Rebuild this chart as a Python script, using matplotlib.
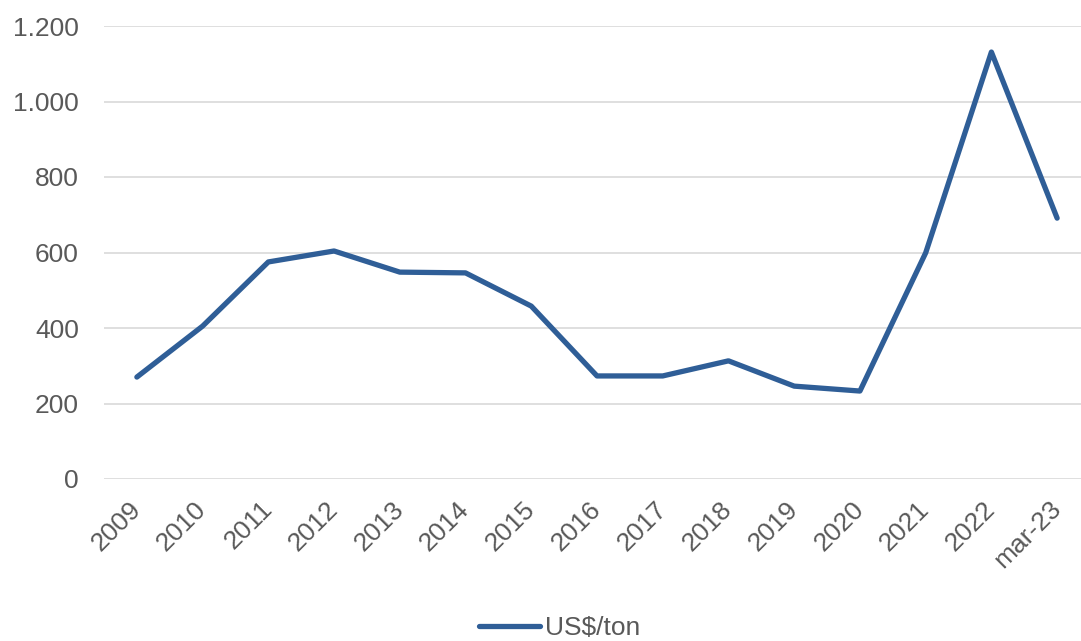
import matplotlib
matplotlib.use('Agg')
from matplotlib import pyplot as plt
from matplotlib.ticker import FuncFormatter

plt.rcParams['font.family'] = ['Liberation Sans', 'DejaVu Sans']

labels = ['2009', '2010', '2011', '2012', '2013', '2014', '2015', '2016',
          '2017', '2018', '2019', '2020', '2021', '2022', 'mar-23']
prices = [270, 405, 575, 604, 548, 546, 458, 273, 273, 313, 246, 233, 599, 1131, 691]

fig = plt.figure(figsize=(10.81, 6.41), dpi=100)
ax = fig.add_axes([104/1081, 1 - 479/641, (1090 - 104)/1081, (479 - 26)/641])

x = list(range(len(labels)))
ax.plot(x, prices, color='#2F5E97', lw=3.8, solid_joinstyle='round',
        solid_capstyle='round', label='US$/ton', clip_on=False)

ax.set_xlim(-0.5, len(labels) - 0.5)
ax.set_ylim(0, 1200)
ax.set_yticks(range(0, 1201, 200))
ax.yaxis.set_major_formatter(FuncFormatter(lambda v, p: f'{int(v):,}'.replace(',', '.')))
ax.set_xticks(x)
ax.set_xticklabels(labels, rotation=45, ha='right', va='center', rotation_mode='anchor')

ax.grid(axis='y', color='#D9D9D9', lw=1.2)
ax.set_axisbelow(True)
for s in ax.spines.values():
    s.set_visible(False)
ax.tick_params(axis='both', length=0, labelsize=19, colors='#595959')
ax.tick_params(axis='y', pad=18)
ax.tick_params(axis='x', pad=19)

fig.legend(loc='center', bbox_to_anchor=(0.518, 1 - 628/641), frameon=False,
           fontsize=19, labelcolor='#595959', handlelength=2.3, handletextpad=0.2)

fig.savefig('out.png', dpi=100)
